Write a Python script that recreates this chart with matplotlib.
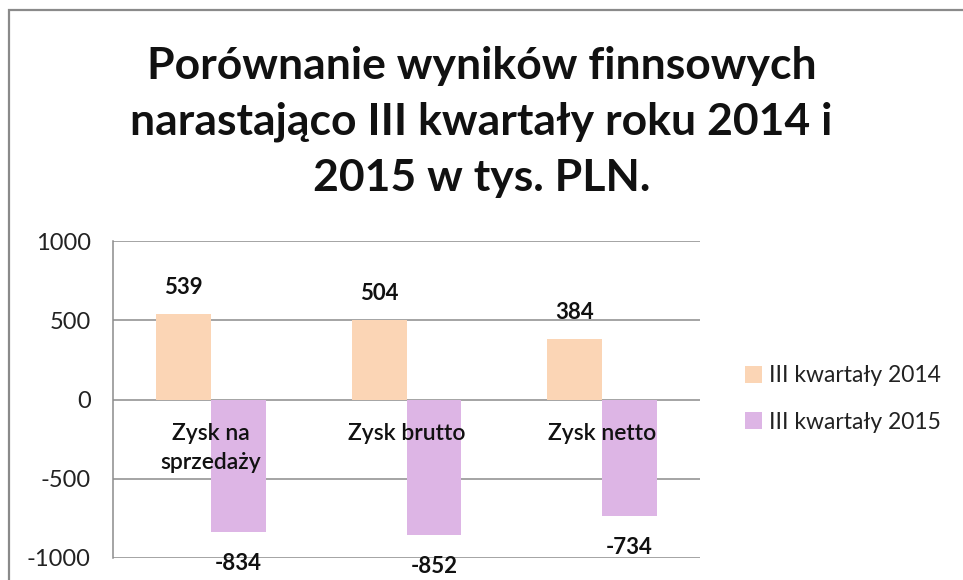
import matplotlib
matplotlib.use("Agg")
import matplotlib.pyplot as plt
import numpy as np
from matplotlib.patches import Rectangle

categories = ["Zysk na\nsprzedaży", "Zysk brutto", "Zysk netto"]
series_names = ["III kwartały 2014", "III kwartały 2015"]
values_2014 = [539, 504, 384]
values_2015 = [-834, -852, -734]
yticks = [-1000, -500, 0, 500, 1000]
title = "Porównanie wyników finnsowych\nnarastająco III kwartały roku 2014 i\n2015 w tys. PLN."

colors = ["#FBD5B5", "#DDB5E5"]
grid_c = "#8C8C8C"
font = "Lato"

plt.rcParams['font.family'] = [font, 'DejaVu Sans']

fig = plt.figure(figsize=(9.63, 5.8), dpi=100)
ax = fig.add_axes([113/963, 22/580, 587/963, 317/580])

x = np.arange(len(categories))
w = 0.28
b1 = ax.bar(x - w/2, values_2014, w, color=colors[0], label=series_names[0], zorder=3)
b2 = ax.bar(x + w/2, values_2015, w, color=colors[1], label=series_names[1], zorder=3)

ax.set_xlim(-0.5, len(categories) - 0.5)
ax.set_ylim(-1000, 1000)
ax.set_yticks(yticks)
ax.set_yticklabels([str(t) for t in yticks], fontsize=17, color="#222222")
ax.tick_params(axis='y', length=0, pad=16)
ax.set_xticks([])
for t in yticks:
    ax.axhline(t, color=grid_c, lw=1.1, zorder=1)
for s in ["top", "right", "bottom"]:
    ax.spines[s].set_visible(False)
ax.spines["left"].set_color(grid_c)
ax.spines["left"].set_linewidth(1.1)

for xi, v in zip(x - w/2, values_2014):
    ax.annotate(str(v), (xi, v), xytext=(0, 19), textcoords="offset points",
                ha="center", va="center", fontsize=16, fontweight="bold",
                color="#111111", annotation_clip=False, zorder=5)
for xi, v in zip(x + w/2, values_2015):
    ax.annotate(str(v), (xi, v), xytext=(0, -23), textcoords="offset points",
                ha="center", va="center", fontsize=16, fontweight="bold",
                color="#111111", annotation_clip=False, zorder=5)

for xi, lab in zip(x, categories):
    ax.annotate(lab, (xi, 0), xytext=(0, -17), textcoords="offset points",
                ha="center", va="top", fontsize=16.5, color="#111111",
                fontweight="semibold", linespacing=1.45, zorder=6)

fig.text(0.5, 1 - 122/580, title, ha="center", va="center", fontsize=32,
         fontweight="bold", linespacing=1.48, color="#111111")

leg = fig.legend(handles=[b1, b2], labels=series_names, loc="center left",
                 bbox_to_anchor=(724/963, 1 - 399/580), frameon=False,
                 fontsize=16.5, handlelength=0.75, handleheight=0.75,
                 handletextpad=0.3, labelspacing=1.1)
for t in leg.get_texts():
    t.set_color("#222222")

border = Rectangle((8.5/963, -0.1), 1.2, 1 - 10/580 + 0.1, transform=fig.transFigure,
                   fill=False, edgecolor="#8A8A8A", lw=1.6)
fig.add_artist(border)

fig.savefig("out.png", dpi=100)
